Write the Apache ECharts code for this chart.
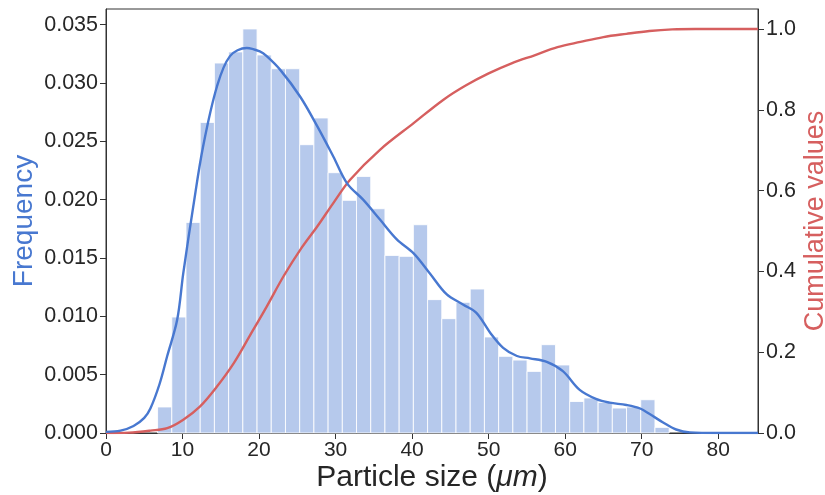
<!DOCTYPE html>
<html>
<head>
<meta charset="utf-8">
<script src="https://cdn.jsdelivr.net/npm/echarts@6/dist/echarts.min.js"></script>
<style>
  html, body { margin: 0; padding: 0; background: #fff; }
  #chart { width: 825px; height: 495px; }
</style>
</head>
<body>
<div id="chart"></div>
<script>
// Histogram of particle sizes (density-normalised), equal-width bins
const binStart = 6.74;
const binWidth = 1.857;
const binFreq = [
  0.00223, 0.00994, 0.01805, 0.02662, 0.03171, 0.03266, 0.03463, 0.03240, 0.03122,
  0.03122, 0.02471, 0.02700, 0.02231, 0.01994, 0.02199, 0.01922, 0.01522, 0.01514,
  0.01785, 0.01143, 0.00980, 0.01120, 0.01234, 0.00823, 0.00657, 0.00625, 0.00528,
  0.00757, 0.00583, 0.00270, 0.00300, 0.00262, 0.00214, 0.00223, 0.00285, 0.00048
];

// Kernel density estimate (left axis)
const kdeX = [0, 1.9, 3.6, 5.0, 5.8, 7.0, 8.0, 9.3, 10.1, 11.4, 12.7, 14.5, 16.2, 18.4, 20.1,
  21.0, 22.8, 25.4, 27.6, 29.7, 31.5, 33.6, 35.8, 38.0, 40.2, 42.3, 44.5, 46.7, 48.4, 50.2,
  51.9, 53.7, 55.4, 57.6, 59.7, 61.9, 64.1, 65.8, 68.0, 69.8, 71.1, 72.8, 74.5, 76.3, 80, 85.2];
const kdeY = [0.0001, 0.0002, 0.0006, 0.0013, 0.0021, 0.0042, 0.0066, 0.0097, 0.0137, 0.0194,
  0.0246, 0.0297, 0.0323, 0.0330, 0.0327, 0.0323, 0.0311, 0.0288, 0.0263, 0.0237, 0.0214,
  0.0200, 0.0183, 0.0166, 0.0154, 0.0137, 0.0119, 0.0110, 0.0103, 0.0086, 0.0073, 0.0066,
  0.0064, 0.0061, 0.0053, 0.0037, 0.0029, 0.0026, 0.0024, 0.0021, 0.0016, 0.0009, 0.0003,
  0.00005, 0, 0];

// Cumulative distribution (right axis)
const cdfX = [0, 3, 5.8, 8.0, 10.1, 12.3, 14.5, 16.7, 18.8, 21.0, 23.2, 25.4, 27.6, 29.7, 31.9,
  35.8, 40.2, 44.1, 47, 50, 53, 56, 59, 62, 65, 68, 71, 74, 77, 85.2];
const cdfY = [0, 0.001, 0.006, 0.012, 0.033, 0.066, 0.115, 0.173, 0.241, 0.313, 0.388, 0.454,
  0.511, 0.569, 0.627, 0.701, 0.767, 0.825, 0.86, 0.89, 0.915, 0.935, 0.955, 0.968, 0.98,
  0.988, 0.995, 0.999, 1.0, 1.0];

// Tick positions
const xTicks = [0, 10, 20, 30, 40, 50, 60, 70, 80];
const freqTicks = [0, 0.005, 0.010, 0.015, 0.020, 0.025, 0.030, 0.035];
const cumTicks = [0, 0.2, 0.4, 0.6, 0.8, 1.0];

const FONT = '"Liberation Sans", Arial, Helvetica, sans-serif';
const BLUE = '#4878d0';
const RED = '#d65f5f';
const BAR = 'rgb(182,201,236)';
const AXIS = '#333333';
const TEXT = '#262626';

const histData = binFreq.map((f, i) => [binStart + i * binWidth, binStart + (i + 1) * binWidth, f]);
const kdeData = kdeX.map((x, i) => [x, kdeY[i]]);
const cdfData = cdfX.map((x, i) => [x, cdfY[i]]);

const chart = echarts.init(document.getElementById('chart'), null, { renderer: 'canvas' });

const tickStyle = { show: true, inside: false, length: 6, lineStyle: { color: AXIS, width: 1 } };

chart.setOption({
  animation: false,
  backgroundColor: '#fff',
  textStyle: { fontFamily: FONT },
  grid: {
    left: 106, right: 67, top: 9, bottom: 62,
    outerBoundsMode: 'none',
    containLabel: false,
    show: true, borderColor: AXIS, borderWidth: 1, backgroundColor: 'transparent'
  },
  xAxis: {
    type: 'value', min: 0, max: 85.2,
    axisLine: { show: true, onZero: false, lineStyle: { color: AXIS, width: 1 } },
    axisTick: Object.assign({ customValues: xTicks }, tickStyle),
    axisLabel: { customValues: xTicks, fontSize: 21, color: TEXT, margin: 7, fontFamily: FONT },
    splitLine: { show: false },
    name: 'Particle size ({i|μm})',
    nameLocation: 'middle',
    nameGap: 30,
    nameMoveOverlap: false,
    nameTextStyle: {
      fontSize: 30, color: TEXT, fontFamily: FONT, verticalAlign: 'top',
      rich: { i: { fontSize: 30, fontStyle: 'italic', color: TEXT, fontFamily: FONT } }
    }
  },
  yAxis: [
    {
      type: 'value', min: 0, max: 0.03634, position: 'left',
      axisLine: { show: true, lineStyle: { color: AXIS, width: 1 } },
      axisTick: Object.assign({ customValues: freqTicks }, tickStyle),
      axisLabel: {
        customValues: freqTicks, fontSize: 21.5, color: TEXT, margin: 8, fontFamily: FONT,
        formatter: v => v.toFixed(3)
      },
      splitLine: { show: false },
      name: 'Frequency',
      nameLocation: 'middle',
      nameGap: 68,
      nameMoveOverlap: false,
      nameRotate: 90,
      nameTextStyle: { fontSize: 28, color: BLUE, fontFamily: FONT }
    },
    {
      type: 'value', min: 0, max: 1.0495, position: 'right',
      axisLine: { show: true, lineStyle: { color: AXIS, width: 1 } },
      axisTick: Object.assign({ customValues: cumTicks }, tickStyle),
      axisLabel: {
        customValues: cumTicks, fontSize: 21.5, color: TEXT, margin: 8, fontFamily: FONT,
        formatter: v => v.toFixed(1)
      },
      splitLine: { show: false },
      name: 'Cumulative values',
      nameLocation: 'middle',
      nameGap: 44,
      nameMoveOverlap: false,
      nameRotate: 90,
      nameTextStyle: { fontSize: 27, color: RED, fontFamily: FONT }
    }
  ],
  series: [
    {
      name: 'histogram',
      type: 'custom',
      xAxisIndex: 0, yAxisIndex: 0,
      encode: { x: [0, 1], y: 2 },
      data: histData,
      z: 1,
      renderItem: function (params, api) {
        const p0 = api.coord([api.value(0), api.value(2)]);
        const p1 = api.coord([api.value(1), 0]);
        return {
          type: 'rect',
          shape: { x: p0[0], y: p0[1], width: p1[0] - p0[0], height: p1[1] - p0[1] },
          style: { fill: BAR, stroke: 'rgba(255,255,255,0.85)', lineWidth: 1 }
        };
      }
    },
    {
      name: 'density',
      type: 'line',
      xAxisIndex: 0, yAxisIndex: 0,
      data: kdeData,
      smooth: 0.35,
      showSymbol: false,
      lineStyle: { color: BLUE, width: 2.4 },
      z: 3
    },
    {
      name: 'cumulative',
      type: 'line',
      xAxisIndex: 0, yAxisIndex: 1,
      data: cdfData,
      smooth: 0.35,
      showSymbol: false,
      lineStyle: { color: RED, width: 2.4 },
      z: 2
    }
  ]
});
</script>
</body>
</html>
